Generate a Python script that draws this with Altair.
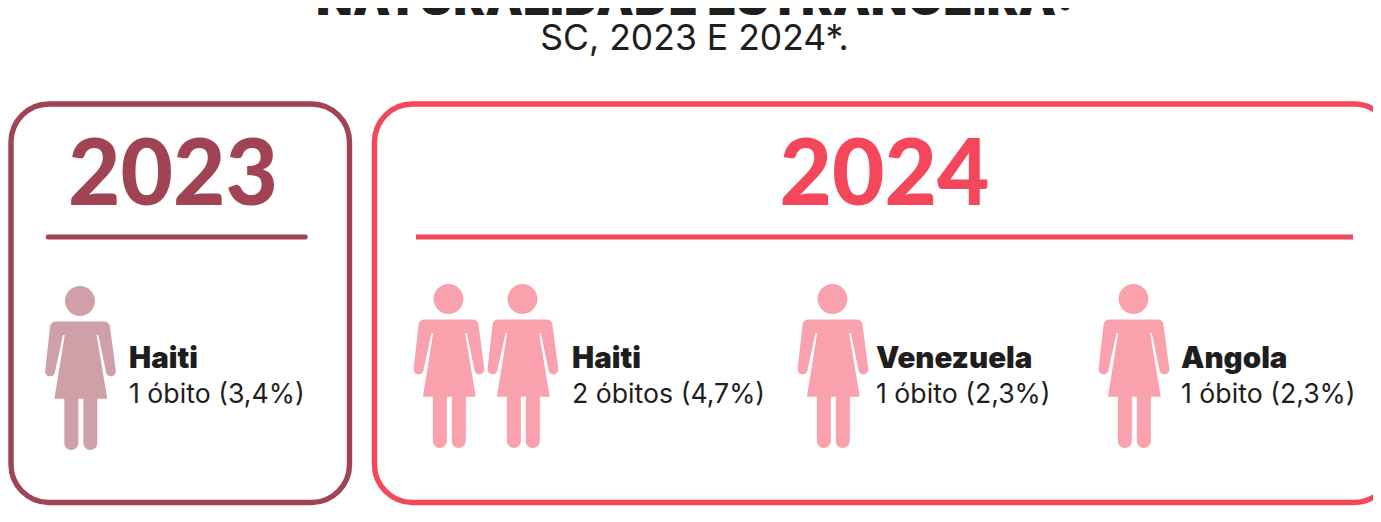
import altair as alt
import pandas as pd

# ---- data ----
YEARS = ["2023", "2024", "2024", "2024"]
COUNTRIES = ["Haiti", "Haiti", "Venezuela", "Angola"]
DEATHS = [1, 2, 1, 1]
PERCENTS = ["3,4", "4,7", "2,3", "2,3"]
TITLE = "NATURALIDADE ESTRANGEIRA:"
SUBTITLE = "SC, 2023 E 2024*."

# ---- layout (not data): positions below are page pixels; the scales take off the 8px page margin ----
MARGIN = 8
PAGE_W, PAGE_H = 1373, 514
DARK = "#A04352"
RED = "#F5475B"
INK = "#1E1E1E"
YEAR_COLOR = {"2023": DARK, "2024": RED}
FIG_COLOR = {"2023": "#CFA0A8", "2024": "#F9A2AE"}
PANELS = {
    "2023": dict(x=11, x2=349.5, rx=48.2, rx2=305.2, tx=173),
    "2024": dict(x=374.5, x2=1392, rx=416, rx2=1353, tx=884.5),
}
GROUP_FIG_X = [80, 448.5, 832.5, 1133.5]
GROUP_TEXT_X = [129, 572, 876, 1181]
GROUP_FIG_Y = [368, 366, 366, 366]
FIG_STEP = 74


def figure_path():
    cx, cy, k = 150, 294.5, 246.5

    def p(x, y):
        return f"{(x - cx) / k:.4f},{(y - cy) / k:.4f}"

    def r(v):
        return f"{v / k:.4f}"

    def arc(rad, x, y):
        return f"A{r(rad)},{r(rad)} 0 0 1 {p(x, y)}"

    head = f"M{p(105, 93)} {arc(45, 195, 93)} {arc(45, 105, 93)} Z"
    body = " ".join([
        f"M{p(78, 155)}", f"L{p(222, 155)}", f"Q{p(237, 155)} {p(240, 170)}",
        f"L{p(258, 305)}", arc(15, 229, 310),
        f"L{p(205, 195)}", f"L{p(200, 195)}", f"L{p(232, 387)}",
        f"L{p(202, 387)}", f"L{p(202, 520)}", arc(21, 160, 520),
        f"L{p(160, 387)}", f"L{p(145, 387)}", f"L{p(145, 520)}", arc(21, 103, 520),
        f"L{p(103, 387)}", f"L{p(73, 387)}", f"L{p(104, 195)}", f"L{p(99, 195)}",
        f"L{p(74, 310)}", arc(15, 45, 305), f"L{p(60, 170)}", f"Q{p(63, 155)} {p(78, 155)}", "Z",
    ])
    return head + " " + body


W, H = PAGE_W - MARGIN, PAGE_H - MARGIN
SX = alt.Scale(domain=[MARGIN, PAGE_W], range=[0, W])
SY = alt.Scale(domain=[MARGIN, PAGE_H], range=[0, H])


def xq(f):
    return alt.X(f + ":Q", scale=SX, axis=None)


def yq(f):
    return alt.Y(f + ":Q", scale=SY, axis=None)


panels = pd.DataFrame([
    dict(year=y, col=YEAR_COLOR[y], x=p["x"], x2=p["x2"], y=104, y2=502.5,
         rx=p["rx"], rx2=p["rx2"], ry=237, tx=p["tx"], ty=205)
    for y, p in PANELS.items()
])

figs = []
for i, (yr, n) in enumerate(zip(YEARS, DEATHS)):
    for j in range(n):
        figs.append(dict(col=FIG_COLOR[yr], x=GROUP_FIG_X[i] + j * FIG_STEP, y=GROUP_FIG_Y[i]))
figs = pd.DataFrame(figs)

labels = pd.DataFrame({
    "x": GROUP_TEXT_X,
    "country": COUNTRIES,
    "detail": [f"{n} óbito{'s' if n > 1 else ''} ({p}%)" for n, p in zip(DEATHS, PERCENTS)],
})
labels["y1"] = 368
labels["y2"] = 403

box_layers = []
rule_layers = []
for yr, col in YEAR_COLOR.items():
    d = panels[panels.year == yr]
    box_layers.append(
        alt.Chart(d).mark_rect(fill="transparent", stroke=col, strokeWidth=5.4, cornerRadius=38, clip=False)
        .encode(x=xq("x"), x2=alt.X2("x2:Q"), y=yq("y"), y2=alt.Y2("y2:Q"))
    )
    rule_layers.append(
        alt.Chart(d).mark_rule(stroke=col, strokeWidth=5, strokeCap="round" if yr == "2023" else "butt")
        .encode(x=xq("rx"), x2=alt.X2("rx2:Q"), y=yq("ry"))
    )

year_text = alt.Chart(panels).mark_text(
    font="Lato", fontWeight=900, fontSize=90.5, align="center", baseline="alphabetic"
).encode(x=xq("tx"), y=yq("ty"), text="year:N", color=alt.Color("col:N", scale=None))

figure = alt.Chart(figs).mark_point(
    shape=figure_path(), filled=True, opacity=1, size=164 ** 2, strokeWidth=0
).encode(x=xq("x"), y=yq("y"), color=alt.Color("col:N", scale=None))

country = alt.Chart(labels).mark_text(
    font="Inter", fontWeight=900, fontSize=29.5, align="left", baseline="alphabetic", color=INK
).encode(x=xq("x"), y=yq("y1"), text="country:N")
detail = alt.Chart(labels).mark_text(
    font="Inter", fontWeight=400, fontSize=26.7, align="left", baseline="alphabetic", color=INK
).encode(x=xq("x"), y=yq("y2"), text="detail:N")

heads = pd.DataFrame({"x": [695, 694.5], "y": [15, 50], "t": [TITLE, SUBTITLE]})
title = alt.Chart(heads.iloc[[0]]).mark_text(
    font="Inter", fontWeight=900, fontSize=47.7, align="center", baseline="alphabetic", color=INK
).encode(x=xq("x"), y=yq("y"), text="t:N")
subtitle = alt.Chart(heads.iloc[[1]]).mark_text(
    font="Inter", fontWeight=400, fontSize=35.5, align="center", baseline="alphabetic", color=INK
).encode(x=xq("x"), y=yq("y"), text="t:N")

chart = alt.layer(
    *box_layers, *rule_layers, year_text, figure, country, detail, title, subtitle
).properties(
    width=W, height=H, padding=0, autosize=alt.AutoSizeParams(type="none"),
).configure_view(stroke=None)

chart.save("out.html", embed_options={"renderer": "svg", "actions": False})
